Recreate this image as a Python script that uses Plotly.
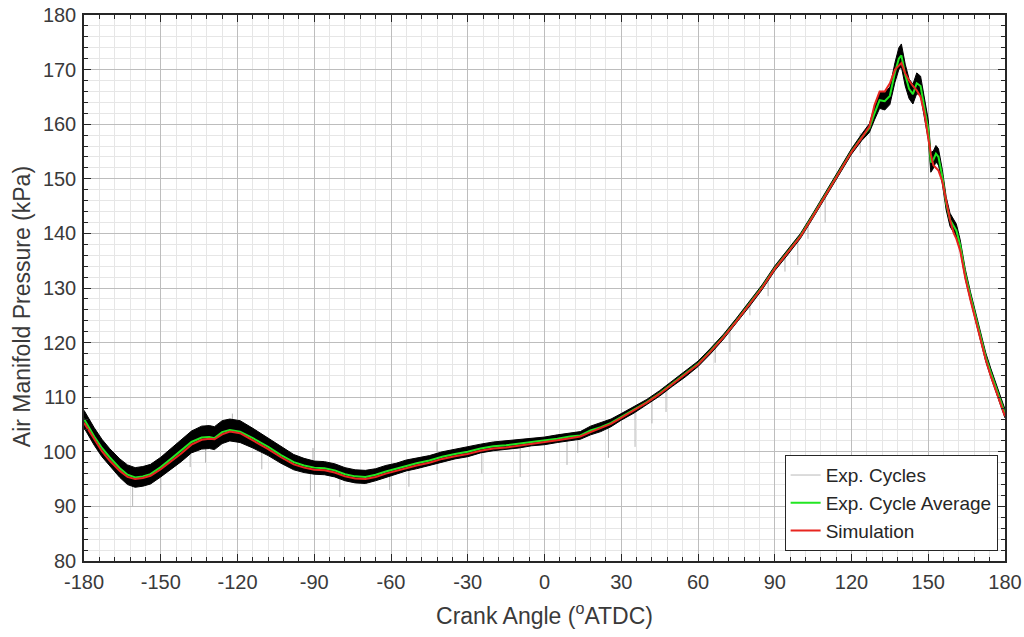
import plotly.graph_objects as go

# Crank angle grid (deg ATDC) for the read-off curves
crank_angle = [-180, -176, -173, -170, -166, -163, -160, -157, -154, -150,
               -146, -142, -138, -134, -131, -129, -126, -123, -119, -114,
               -108, -103, -98, -94, -90, -86, -82, -78, -74, -70,
               -66, -62, -58, -54, -50, -45, -40, -35, -30, -25,
               -20, -15, -10, -5, 0, 5, 10, 14, 18, 22,
               26, 30, 35, 40, 45, 50, 55, 60, 65, 70,
               75, 80, 85, 90, 95, 100, 105, 110, 115, 120,
               124, 127, 129, 131, 133, 135, 137, 138.5, 139.5, 141,
               142.5, 144, 145.5, 147, 148.5, 150, 151, 152, 153, 154,
               155.5, 157, 158.5, 160, 161, 162.5, 164.5, 166.5, 168.5, 170.5,
               172.5, 174.5, 176.5, 178.5, 180]

# Experimental cycle average (kPa)
exp_average = [106.0, 102.8, 100.7, 99.0, 97.0, 95.8, 95.3, 95.5, 95.9, 97.2,
               98.7, 100.2, 101.8, 102.6, 102.7, 102.5, 103.6, 104.0, 103.7, 102.5,
               100.9, 99.4, 98.1, 97.5, 97.1, 97.0, 96.6, 95.9, 95.5, 95.4,
               95.8, 96.4, 96.9, 97.5, 97.9, 98.4, 99.1, 99.6, 100.0, 100.6,
               101.0, 101.2, 101.5, 101.8, 102.0, 102.4, 102.8, 103.0, 103.9, 104.5,
               105.3, 106.4, 107.7, 109.1, 110.7, 112.5, 114.2, 116.1, 118.5, 121.1,
               124.0, 127.0, 130.1, 133.6, 136.5, 139.5, 143.3, 147.2, 151.2, 155.0,
               157.6, 159.3, 162.0, 164.4, 164.2, 165.2, 169.5, 172.0, 172.6, 169.0,
               166.5, 165.5, 167.5, 167.0, 163.0, 159.0, 153.0, 153.5, 154.6, 154.0,
               150.4, 145.5, 142.5, 141.3, 140.5, 137.8, 132.5, 128.5, 124.8, 121.0,
               117.3, 114.4, 111.5, 109.0, 107.0]

# Simulated manifold pressure (kPa)
simulation = [105.3, 102.2, 100.1, 98.4, 96.5, 95.4, 95.0, 95.2, 95.6, 96.8,
              98.2, 99.7, 101.3, 102.2, 102.4, 102.3, 103.2, 103.7, 103.4, 102.1,
              100.5, 99.0, 97.7, 97.1, 96.7, 96.6, 96.2, 95.5, 95.1, 95.0,
              95.4, 96.0, 96.5, 97.1, 97.5, 98.0, 98.7, 99.2, 99.6, 100.2,
              100.6, 100.8, 101.1, 101.4, 101.7, 102.1, 102.5, 102.8, 103.6, 104.3,
              105.1, 106.2, 107.6, 109.0, 110.6, 112.4, 114.1, 116.0, 118.4, 121.0,
              123.9, 126.9, 130.0, 133.5, 136.4, 139.4, 143.2, 147.1, 151.1, 154.9,
              157.5, 159.6, 163.5, 166.0, 166.0, 167.5, 170.0, 170.8, 171.2, 169.3,
              168.0, 167.0, 166.2, 165.0, 162.0, 157.5, 154.5, 152.5, 152.0, 151.5,
              149.5, 146.0, 142.5, 140.0, 139.0, 136.8, 131.8, 127.8, 124.2, 120.4,
              116.8, 113.8, 111.0, 108.5, 106.5]

# Half-width of the band covered by the individual experimental cycles (kPa)
exp_spread = [1.6, 1.6, 1.6, 1.6, 1.7, 1.8, 1.8, 1.8, 1.8, 1.8,
              1.9, 2.0, 2.0, 2.1, 2.1, 2.1, 2.1, 2.0, 2.0, 1.8,
              1.6, 1.5, 1.4, 1.3, 1.2, 1.2, 1.2, 1.2, 1.2, 1.2,
              1.1, 1.1, 1.0, 1.0, 1.0, 0.9, 0.9, 0.9, 0.9, 0.8,
              0.8, 0.8, 0.8, 0.7, 0.7, 0.7, 0.7, 0.7, 0.8, 0.8,
              0.7, 0.6, 0.6, 0.5, 0.5, 0.5, 0.5, 0.5, 0.5, 0.45,
              0.45, 0.45, 0.45, 0.45, 0.45, 0.45, 0.45, 0.5, 0.5, 0.5,
              0.6, 0.8, 1.2, 1.5, 1.6, 1.6, 1.8, 2.0, 2.1, 2.0,
              1.8, 1.8, 1.9, 1.8, 1.8, 1.8, 1.8, 1.6, 1.5, 1.5,
              1.3, 1.2, 1.2, 1.3, 1.2, 1.0, 0.9, 0.8, 0.8, 0.8,
              0.8, 0.8, 0.8, 0.8, 0.8]

# Isolated outlier samples in individual cycles: angle, low and high pressure (kPa)
spike_angle = [-161, -150, -138.5, -132.5, -122, -110.5, -91.5, -90.5, -80, -60.5,
               -53, -42, -24.5, -9.5, 8.8, 13, 25, 35.4, 42, 47.5,
               66.7, 72.5, 80.3, 87.4, 94, 99, 103, 109.7, 123.4, 127.3]
spike_low = [90.0, 93.0, 97.2, 98.0, 103.5, 96.8, 92.6, 97.0, 91.7, 93.0,
             93.6, 96.5, 96.0, 95.4, 97.6, 99.8, 98.9, 100.9, 105.2, 107.3,
             116.3, 118.3, 125.0, 128.5, 133.0, 134.2, 139.0, 142.0, 154.7, 153.0]
spike_high = [95.5, 97.0, 101.5, 102.5, 107.0, 101.5, 97.2, 100.7, 96.5, 96.2,
              97.3, 101.8, 100.6, 101.5, 102.6, 103.0, 104.7, 107.2, 109.5, 111.5,
              119.5, 122.5, 127.2, 131.8, 136.0, 138.6, 141.5, 146.5, 158.4, 159.3]

x_ticks = list(range(-180, 181, 30))
x_tick_labels = [str(v) for v in x_ticks]
y_ticks = list(range(80, 181, 10))
y_tick_labels = [str(v) for v in y_ticks]

band_upper = [a + s for a, s in zip(exp_average, exp_spread)]
band_lower = [a - s for a, s in zip(exp_average, exp_spread)]

spike_x, spike_y = [], []
for a, lo, hi in zip(spike_angle, spike_low, spike_high):
    spike_x += [a, a, None]
    spike_y += [lo, hi, None]

fig = go.Figure()

fig.add_trace(go.Scatter(
    x=spike_x, y=spike_y, mode="lines", name="Exp. Cycles",
    line=dict(color="#b8b8b8", width=1), connectgaps=False))

fig.add_trace(go.Scatter(
    x=crank_angle, y=band_upper, mode="lines", showlegend=False,
    line=dict(color="black", width=1), hoverinfo="skip"))
fig.add_trace(go.Scatter(
    x=crank_angle, y=band_lower, mode="lines", showlegend=False,
    line=dict(color="black", width=1), fill="tonexty", fillcolor="black",
    hoverinfo="skip"))

fig.add_trace(go.Scatter(
    x=crank_angle, y=exp_average, mode="lines", name="Exp. Cycle Average",
    line=dict(color="#22e622", width=2)))

fig.add_trace(go.Scatter(
    x=crank_angle, y=simulation, mode="lines", name="Simulation",
    line=dict(color="#e8251f", width=2)))

font_family = "Liberation Sans, Arial, sans-serif"
title_font = dict(family=font_family, size=23, color="#3a3a3a")
axis_common = dict(
    showline=True, linecolor="#262626", linewidth=1.5, mirror="allticks",
    ticks="inside", ticklen=7, tickwidth=1.2, tickcolor="#262626",
    showgrid=True, gridcolor="#bdbdbd", gridwidth=1,
    zeroline=False, automargin=False,
    tickfont=dict(family=font_family, size=20, color="#3a3a3a"),
)

fig.update_xaxes(
    range=[-180, 180], tickvals=x_ticks, ticktext=x_tick_labels,
    ticklabelstandoff=2,
    minor=dict(dtick=6, showgrid=True, gridcolor="#e6e6e6", gridwidth=1,
               ticks="inside", ticklen=4, tickcolor="#262626"),
    title=dict(text="Crank Angle (<sup>o</sup>ATDC)", standoff=16,
               font=title_font),
    **axis_common)
fig.update_yaxes(
    range=[80, 180], tickvals=y_ticks, ticktext=y_tick_labels,
    ticklabelstandoff=2,
    minor=dict(dtick=2, showgrid=True, gridcolor="#e6e6e6", gridwidth=1,
               ticks="inside", ticklen=4, tickcolor="#262626"),
    **axis_common)

# Vertical axis label, placed slightly below the plot centre
fig.add_annotation(
    text="Air Manifold Pressure (kPa)", textangle=-90,
    xref="paper", yref="paper", x=-0.0673, y=0.465,
    xanchor="center", yanchor="middle", showarrow=False,
    font=title_font)

fig.update_layout(
    width=1024, height=637,
    margin=dict(l=84, r=19, t=15, b=76),
    paper_bgcolor="white", plot_bgcolor="white",
    font=dict(family=font_family, color="#262626"),
    legend=dict(x=0.992, y=0.018, xanchor="right", yanchor="bottom",
                traceorder="normal",
                bgcolor="white", bordercolor="#262626", borderwidth=1,
                font=dict(family=font_family, size=19, color="#262626"),
                itemwidth=30, tracegroupgap=0),
)

fig.write_html("out.html")
